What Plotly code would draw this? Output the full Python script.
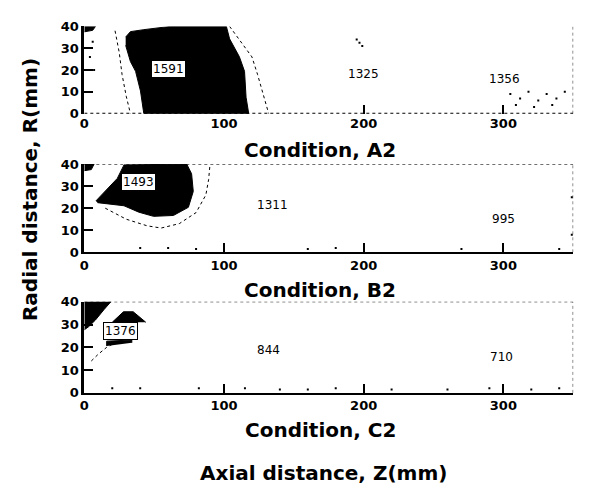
import plotly.graph_objects as go

# ---------------- data ----------------
x_tick_vals = [0, 100, 200, 300]
y_tick_vals = [0, 10, 20, 30, 40]
panel_titles = ["Condition, A2", "Condition, B2", "Condition, C2"]
x_title = "Axial distance, Z(mm)"
y_title = "Radial distance, R(mm)"

# black (highest) contour regions, in mm
a2_core_x = [29.6, 33, 42.6, 61.5, 101.7, 104, 111, 114.7, 115.8, 117.7, 42.6, 40.2, 36.7, 33, 29.6]
a2_core_y = [35.1, 37.6, 38.5, 40, 40, 34.3, 26.1, 19.4, 7.5, 0, 0, 10.4, 19.4, 23.9, 31.3]
a2_corner_x = [0, 8, 6, 0]
a2_corner_y = [40, 40, 38.2, 37.5]
a2_outer_x = [22, 25, 27, 30, 33]
a2_outer_y = [38, 28, 18, 8, 0]
a2_outer2_x = [104, 112, 120, 124, 128, 132]
a2_outer2_y = [40, 33, 26, 18, 9, 0]
# sparse contour speckles
a2_speck_x = [195, 197, 199, 305, 312, 318, 325, 331, 338, 344, 309, 322, 335, 6, 4, 7]
a2_speck_y = [34, 32.5, 31, 9, 7, 10, 6, 9, 7, 10, 4, 3, 4, 33, 26, 20]

b2_core_x = [8.3, 23.6, 28.4, 73.3, 76.8, 78, 74.5, 63.8, 49.6, 39, 28.4, 9.5]
b2_core_y = [23.3, 33.5, 39.6, 40, 35.6, 27.6, 20.4, 16.7, 16.3, 18.2, 21.1, 22.5]
b2_corner_x = [0, 7, 5, 0]
b2_corner_y = [40, 40, 37.5, 37]
b2_outer_x = [15, 30, 45, 55, 68, 80, 87, 89, 90]
b2_outer_y = [20, 15, 12, 11, 13, 18, 26, 33, 40]
b2_speck_x = [40, 60, 80, 160, 180, 270, 340, 349, 349]
b2_speck_y = [2, 2, 1.5, 1.5, 2, 1.5, 1.5, 25, 8]

c2_core_x = [0, 19, 14, 8, 3, 0]
c2_core_y = [40, 40, 36.5, 32, 29, 27.7]
c2_hump_x = [20, 25, 28, 35, 40, 44]
c2_hump_y = [31, 34, 35.6, 35.6, 33, 31]
c2_bar_x = [16, 16, 34, 34]
c2_bar_y = [20.6, 22.7, 23.2, 22.0]
c2_outer_x = [5, 10, 16, 22]
c2_outer_y = [14, 17, 20, 22]
c2_speck_x = [20, 40, 82, 115, 140, 160, 180, 220, 260, 290, 320, 340]
c2_speck_y = [2, 2, 2, 2, 1.5, 1.5, 2, 1.5, 1.5, 2, 1.5, 2]

# contour value labels: (x, y, text, boxed)
a2_labels = [(60, 20.6, "1591", True), (200, 18.4, "1325", False), (301, 16, "1356", False)]
b2_labels = [(38.6, 31.7, "1493", True), (134.8, 21.4, "1311", False), (300, 15.3, "995", False)]
c2_labels = [(26, 27, "1376", True), (132, 18.7, "844", False), (299, 15.6, "710", False)]

panels = [
    dict(fills=[(a2_core_x, a2_core_y), (a2_corner_x, a2_corner_y)],
         dots=[(a2_outer_x, a2_outer_y), (a2_outer2_x, a2_outer2_y)],
         speck=(a2_speck_x, a2_speck_y), labels=a2_labels),
    dict(fills=[(b2_core_x, b2_core_y), (b2_corner_x, b2_corner_y)],
         dots=[(b2_outer_x, b2_outer_y)],
         speck=(b2_speck_x, b2_speck_y), labels=b2_labels),
    dict(fills=[(c2_core_x, c2_core_y), (c2_hump_x, c2_hump_y), (c2_bar_x, c2_bar_y)],
         dots=[(c2_outer_x, c2_outer_y)],
         speck=(c2_speck_x, c2_speck_y), labels=c2_labels),
]

W, H = 595, 493
FONT = "DejaVu Sans"
x_dom = [80 / W, 573 / W]
y_doms = [[1 - 110 / H, 1 - 20 / H], [1 - 253 / H, 1 - 162 / H], [1 - 398 / H, 1 - 304 / H]]
title_y = [147, 292, 436]

fig = go.Figure()
annotations = []
shapes = []
layout = {}
for i, p in enumerate(panels):
    n = "" if i == 0 else str(i + 1)
    xa, ya = "x" + n, "y" + n
    for fx, fy in p["fills"]:
        fig.add_trace(go.Scatter(x=fx, y=fy, xaxis=xa, yaxis=ya, mode="lines",
                                 fill="toself", fillcolor="black",
                                 line=dict(color="black", width=1), hoverinfo="skip",
                                 showlegend=False))
    for dx, dy in p["dots"]:
        fig.add_trace(go.Scatter(x=dx, y=dy, xaxis=xa, yaxis=ya, mode="lines",
                                 line=dict(color="black", width=1, dash="dot"),
                                 hoverinfo="skip", showlegend=False))
    sx, sy = p["speck"]
    fig.add_trace(go.Scatter(x=sx, y=sy, xaxis=xa, yaxis=ya, mode="markers",
                             marker=dict(color="black", size=2, symbol="square"),
                             hoverinfo="skip", showlegend=False))
    for lx, ly, txt, boxed in p["labels"]:
        annotations.append(dict(x=lx, y=ly, xref=xa, yref=ya, text=txt, showarrow=False,
                                xanchor="center", yanchor="middle",
                                font=dict(family=FONT, size=12, color="black"),
                                bgcolor="white" if boxed else None,
                                bordercolor="black" if boxed else None,
                                borderwidth=1 if boxed else 0, borderpad=1))
    layout["xaxis" + n] = dict(domain=x_dom, anchor=ya, range=[0, 350],
                               tickvals=x_tick_vals, ticks="inside", ticklen=9,
                               tickwidth=2, tickcolor="black",
                               showline=(i != 0), linecolor="black", linewidth=2,
                               showgrid=False, zeroline=False,
                               tickfont=dict(family=FONT, size=13, color="black", weight="bold"))
    layout["yaxis" + n] = dict(domain=y_doms[i], anchor=xa, range=[0, 40],
                               tickvals=y_tick_vals, ticks="inside", ticklen=9,
                               tickwidth=2, tickcolor="black",
                               showline=True, linecolor="black", linewidth=3,
                               showgrid=False, zeroline=False,
                               tickfont=dict(family=FONT, size=13, color="black", weight="bold"))
    shapes.append(dict(type="line", xref=xa, yref=ya, x0=350, x1=350, y0=0, y1=40,
                       line=dict(color="black", width=1, dash="dot")))
    if i == 0:
        shapes.append(dict(type="line", xref=xa, yref=ya, x0=0, x1=350, y0=0, y1=0,
                           line=dict(color="black", width=2, dash="dot")))
    else:
        shapes.append(dict(type="line", xref=xa, yref=ya, x0=0, x1=350, y0=40, y1=40,
                           line=dict(color="black", width=1, dash="dot")))
    annotations.append(dict(x=318 / W, y=1 - title_y[i] / H, xref="paper", yref="paper",
                            xanchor="center", yanchor="middle",
                            text="<b>" + panel_titles[i] + "</b>", showarrow=False,
                            font=dict(family=FONT, size=20, color="black")))

annotations.append(dict(x=321 / W, y=1 - 481 / H, xref="paper", yref="paper",
                        xanchor="center", yanchor="middle",
                        text="<b>" + x_title + "</b>", showarrow=False,
                        font=dict(family=FONT, size=20, color="black")))
annotations.append(dict(x=25 / W, y=1 - 188 / H, xref="paper", yref="paper",
                        xanchor="center", yanchor="middle",
                        text="<b>" + y_title + "</b>", showarrow=False, textangle=-90,
                        font=dict(family=FONT, size=20, color="black")))

fig.update_layout(width=W, height=H, margin=dict(l=0, r=0, t=0, b=0),
                  paper_bgcolor="white", plot_bgcolor="white",
                  annotations=annotations, shapes=shapes, showlegend=False, **layout)
fig.write_html("out.html")
